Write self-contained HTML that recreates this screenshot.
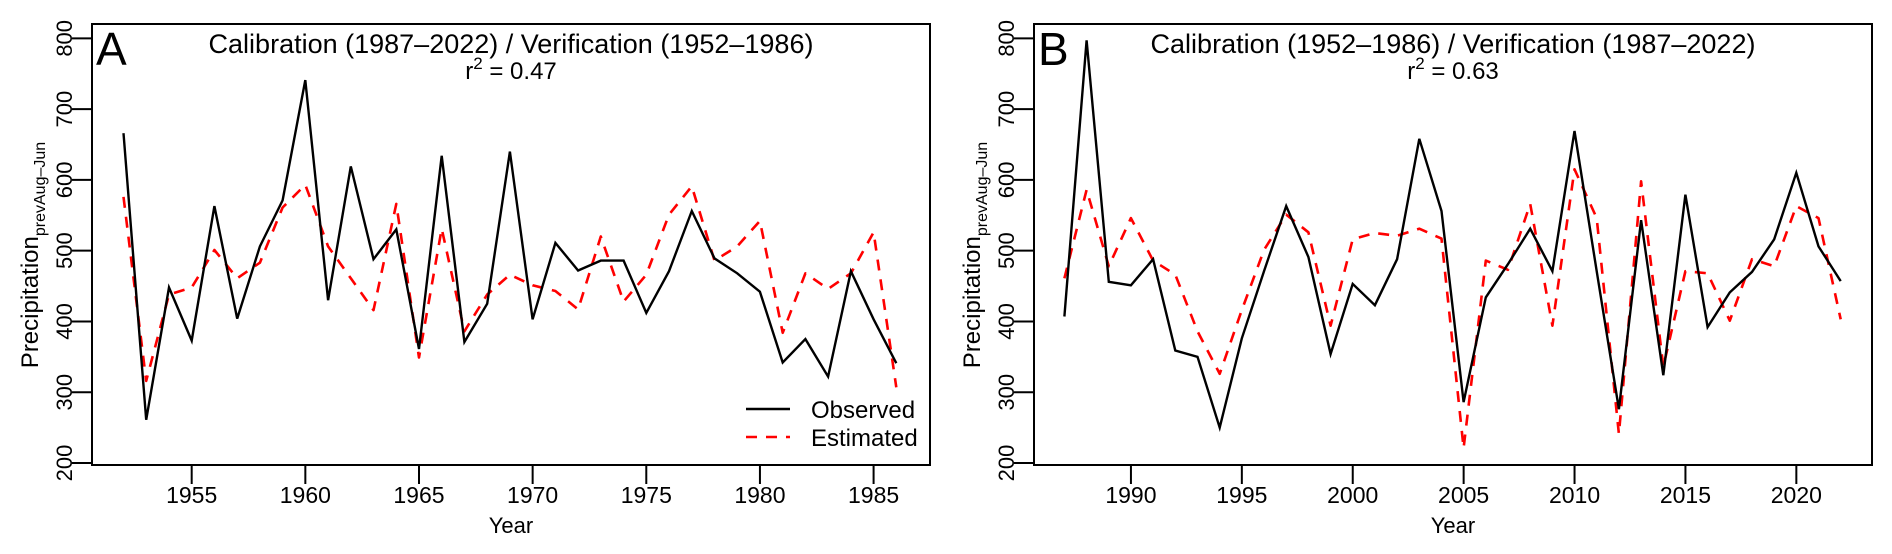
<!DOCTYPE html>
<html><head><meta charset="utf-8"><style>
body{margin:0;background:#fff}
svg{display:block;font-family:"Liberation Sans",Arial,sans-serif}
</style></head><body>
<svg id="c" width="1892" height="554" viewBox="0 0 1892 554"></svg>
<script>
const yearsA=[1952,1953,1954,1955,1956,1957,1958,1959,1960,1961,1962,1963,1964,1965,1966,1967,1968,1969,1970,1971,1972,1973,1974,1975,1976,1977,1978,1979,1980,1981,1982,1983,1984,1985,1986];
const obsA=[666,261,448,373,563,404,506,571,741,430,619,488,530,361,634,371,425,640,403,511,472,486,486,412,471,556,489,468,442,342,375,322,471,403,341];
const estA=[576,316,438,448,501,461,483,561,593,506,461,416,566,349,531,386,438,466,451,443,417,520,428,466,551,591,486,506,542,384,468,446,468,526,307];
const yearsB=[1987,1988,1989,1990,1991,1992,1993,1994,1995,1996,1997,1998,1999,2000,2001,2002,2003,2004,2005,2006,2007,2008,2009,2010,2011,2012,2013,2014,2015,2016,2017,2018,2019,2020,2021,2022];
const obsB=[407,797,456,451,488,359,350,250,376,471,563,491,354,453,423,488,658,556,286,434,481,531,471,669,471,276,543,324,579,392,441,470,516,610,506,457];
const estB=[461,586,478,546,486,466,386,326,416,501,551,526,394,516,525,521,531,517,221,486,473,566,394,615,546,241,598,336,471,468,401,488,478,563,546,403];
const yTicks=[200,300,400,500,600,700,800];
const xTicksA=[1955,1960,1965,1970,1975,1980,1985];
const xTicksB=[1990,1995,2000,2005,2010,2015,2020];

const NS="http://www.w3.org/2000/svg";
const svg=document.getElementById('c');
function mk(tag,attrs,parent,text){const e=document.createElementNS(NS,tag);for(const k in attrs)e.setAttribute(k,attrs[k]);if(text!==undefined)e.textContent=text;(parent||svg).appendChild(e);return e;}
function yS(v){return 463-(v-200)*0.7078;}

function panel(cfg){
  const g=mk('g',{});
  
  
  const xS=y=>cfg.x0+(y-cfg.y0)*cfg.k;
  const pts=(ys,vs)=>ys.map((y,i)=>xS(y).toFixed(1)+','+yS(vs[i]).toFixed(1)).join(' ');
  const est=mk('polyline',{points:pts(cfg.years,cfg.est),fill:'none',stroke:'#ff0000','stroke-width':2.6,'stroke-dasharray':'11,9','stroke-linejoin':'round'},g);
  
  
  const obs=mk('polyline',{points:pts(cfg.years,cfg.obs),fill:'none',stroke:'#000','stroke-width':2.4,'stroke-linejoin':'miter'},g);
  
  
  const box=mk('rect',{x:cfg.bl,y:24,width:cfg.br-cfg.bl,height:441,fill:'none',stroke:'#000','stroke-width':2},g);
  
  
  const ya=mk('g',{},g);
  
  
  yTicks.forEach(v=>{
    const y=yS(v);
    mk('line',{x1:cfg.bl-20,x2:cfg.bl,y1:y,y2:y,stroke:'#000','stroke-width':2},ya);
    const t=mk('text',{x:0,y:0,transform:`translate(${cfg.bl-20},${y}) rotate(-90)`,'text-anchor':'middle','font-size':22},ya,String(v));
    
    
  });
  const xa=mk('g',{},g);
  
  
  cfg.xt.forEach(v=>{
    const x=xS(v);
    mk('line',{x1:x,x2:x,y1:465,y2:484,stroke:'#000','stroke-width':2},xa);
    const t=mk('text',{x:x,y:503,'text-anchor':'middle','font-size':23},xa,String(v));
    
    
  });
  const cx=(cfg.bl+cfg.br)/2;
  const xt=mk('text',{x:cx,y:533,'text-anchor':'middle','font-size':22},g,'Year');
  
  
  const yt=mk('text',{x:0,y:0,transform:`translate(${cfg.bl-54},${255}) rotate(-90)`,'text-anchor':'middle','font-size':24},g);
  
  
  mk('tspan',{},yt,'Precipitation');
  mk('tspan',{'font-size':16,dy:7},yt,'prevAug\u2013Jun');
  const ti=mk('text',{x:cx,y:53,'text-anchor':'middle','font-size':27},g,cfg.title);
  
  
  const r=mk('text',{x:cx,y:79,'text-anchor':'middle','font-size':24},g);
  
  
  mk('tspan',{},r,'r');
  mk('tspan',{'font-size':17,dy:-10},r,'2');
  mk('tspan',{dy:10},r,' = '+cfg.r2);
  const L=mk('text',{x:cfg.bl+4,y:65,'font-size':46},g,cfg.id.toUpperCase());
  
  
}
panel({id:'a',bl:92,br:930,x0:123.5,y0:1952,k:22.73,years:yearsA,obs:obsA,est:estA,xt:xTicksA,title:'Calibration (1987\u20132022) / Verification (1952\u20131986)',r2:'0.47'});
panel({id:'b',bl:1034,br:1872,x0:1064.4,y0:1987,k:22.18,years:yearsB,obs:obsB,est:estB,xt:xTicksB,title:'Calibration (1952\u20131986) / Verification (1987\u20132022)',r2:'0.63'});

const lg=mk('g',{});


const l1=mk('g',{},lg);


mk('line',{x1:746,x2:790,y1:409,y2:409,stroke:'#000','stroke-width':2.4},l1);
mk('text',{x:811,y:418,'font-size':24},l1,'Observed');
const l2=mk('g',{},lg);


mk('line',{x1:746,x2:790,y1:437,y2:437,stroke:'#ff0000','stroke-width':2.6,'stroke-dasharray':'11,9'},l2);
mk('text',{x:811,y:446,'font-size':24},l2,'Estimated');
</script>
</body></html>
